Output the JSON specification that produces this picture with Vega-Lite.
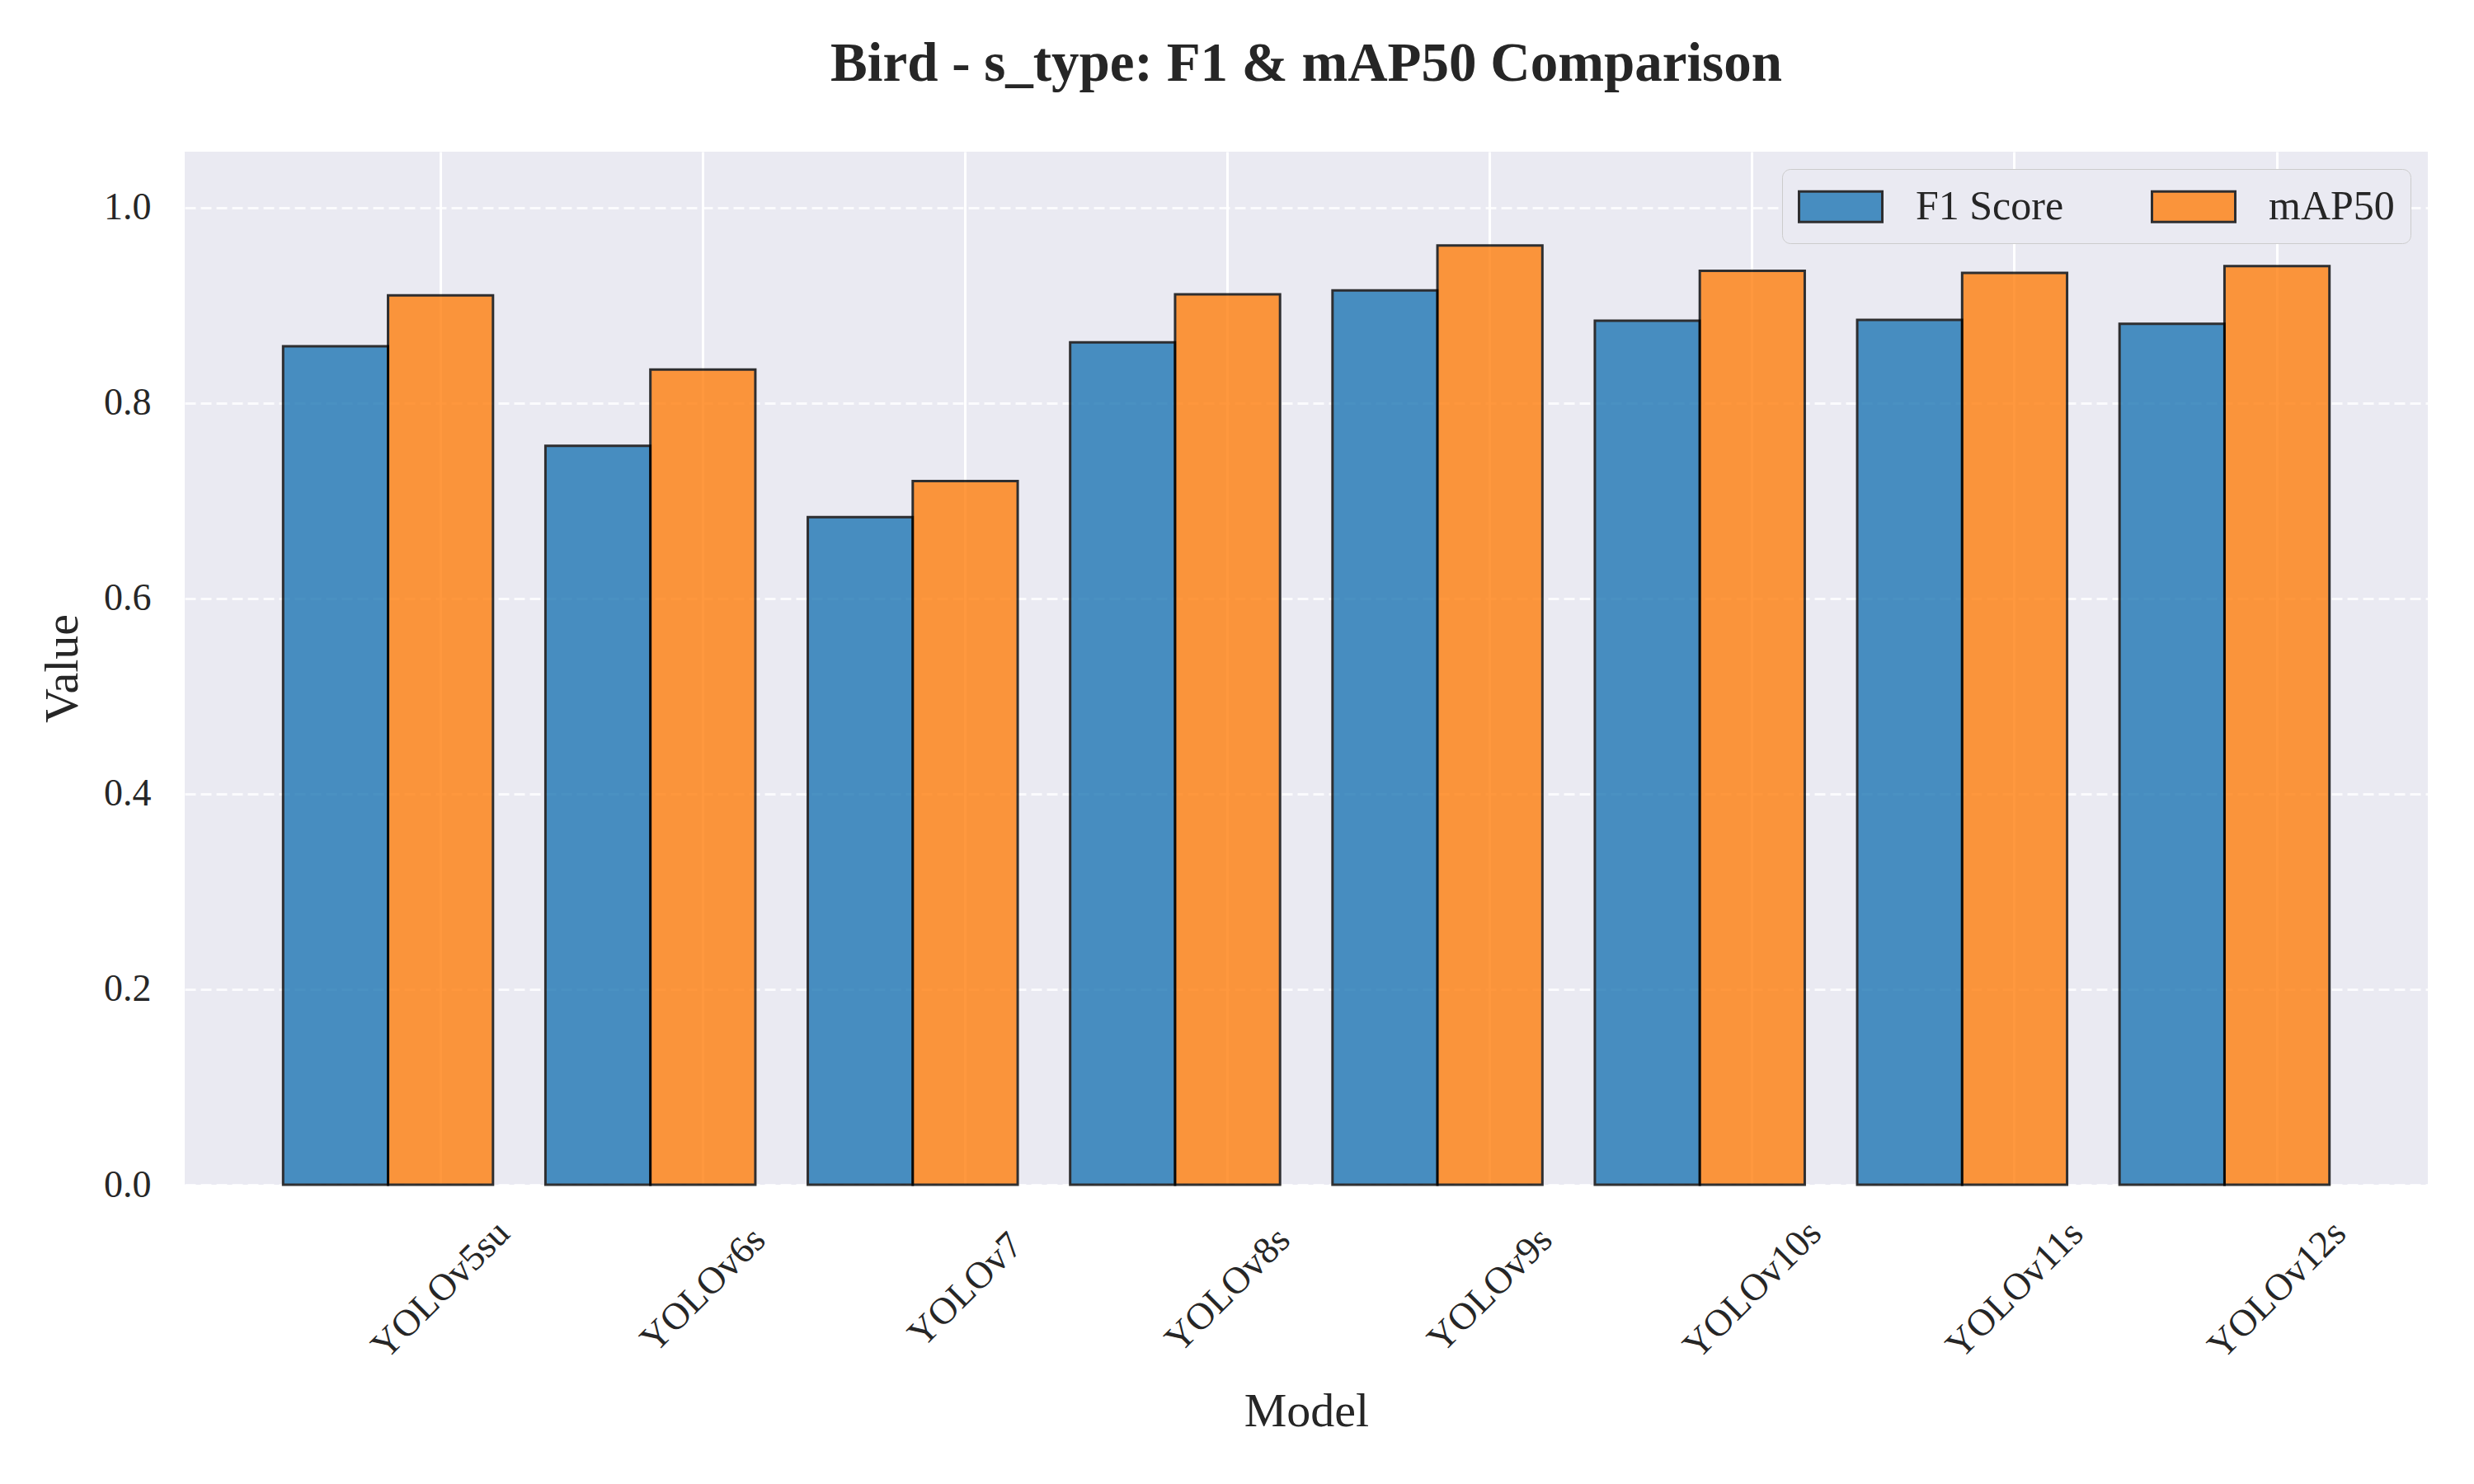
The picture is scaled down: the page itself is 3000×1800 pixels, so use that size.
{
  "$schema": "https://vega.github.io/schema/vega-lite/v6.json",
  "width": 2720,
  "height": 1253,
  "autosize": {"type": "none"},
  "padding": {"left": 224, "top": 184, "right": 56, "bottom": 363},
  "background": "white",
  "title": {
    "text": "Bird - s_type: F1 & mAP50 Comparison",
    "font": "Liberation Serif",
    "fontSize": 67,
    "fontWeight": "bold",
    "color": "#262626",
    "anchor": "middle",
    "baseline": "alphabetic",
    "offset": 19
  },
  "data": {
    "values": [
      {"model": "YOLOv5su", "metric": "F1 Score", "value": 0.858},
      {"model": "YOLOv5su", "metric": "mAP50", "value": 0.910},
      {"model": "YOLOv6s", "metric": "F1 Score", "value": 0.756},
      {"model": "YOLOv6s", "metric": "mAP50", "value": 0.834},
      {"model": "YOLOv7", "metric": "F1 Score", "value": 0.683},
      {"model": "YOLOv7", "metric": "mAP50", "value": 0.720},
      {"model": "YOLOv8s", "metric": "F1 Score", "value": 0.862},
      {"model": "YOLOv8s", "metric": "mAP50", "value": 0.911},
      {"model": "YOLOv9s", "metric": "F1 Score", "value": 0.915},
      {"model": "YOLOv9s", "metric": "mAP50", "value": 0.961},
      {"model": "YOLOv10s", "metric": "F1 Score", "value": 0.884},
      {"model": "YOLOv10s", "metric": "mAP50", "value": 0.935},
      {"model": "YOLOv11s", "metric": "F1 Score", "value": 0.885},
      {"model": "YOLOv11s", "metric": "mAP50", "value": 0.933},
      {"model": "YOLOv12s", "metric": "F1 Score", "value": 0.881},
      {"model": "YOLOv12s", "metric": "mAP50", "value": 0.940}
    ]
  },
  "mark": {"type": "bar", "opacity": 0.8, "stroke": "black", "strokeWidth": 3},
  "encoding": {
    "x": {
      "field": "model",
      "type": "nominal",
      "sort": null,
      "title": "Model",
      "scale": {"paddingInner": 0.2, "paddingOuter": 0.375},
      "axis": {
        "bandPosition": 0.75,
        "labelAngle": -45,
        "labelAlign": "center",
        "labelBaseline": "middle",
        "labelOffset": 64,
        "labelPadding": 127,
        "labelOverlap": false,
        "labelLimit": 0,
        "labelFontSize": 46,
        "titlePadding": 46,
        "grid": true,
        "gridColor": "white",
        "gridWidth": 3,
        "gridDash": []
      }
    },
    "xOffset": {
      "field": "metric",
      "type": "nominal",
      "scale": {"paddingInner": 0, "paddingOuter": 0}
    },
    "y": {
      "field": "value",
      "type": "quantitative",
      "title": "Value",
      "scale": {"domain": [0, 1.057], "nice": false},
      "axis": {
        "values": [0, 0.2, 0.4, 0.6, 0.8, 1.0],
        "format": ".1f",
        "labelPadding": 41,
        "labelFontSize": 46,
        "titlePadding": 20,
        "grid": true,
        "gridColor": "white",
        "gridWidth": 3,
        "gridOpacity": 0.8,
        "gridDash": [13, 6]
      }
    },
    "color": {
      "field": "metric",
      "type": "nominal",
      "scale": {"domain": ["F1 Score", "mAP50"], "range": ["#1f77b4", "#ff7f0e"]},
      "legend": {
        "title": null,
        "orient": "top-right",
        "offset": 21,
        "direction": "horizontal",
        "columns": 2,
        "columnPadding": 100,
        "padding": 19,
        "cornerRadius": 10,
        "fillColor": "#eaeaf2",
        "strokeColor": "#cccccc",
        "symbolType": "M-1,-0.74L3.04,-0.74L3.04,0.74L-1,0.74Z",
        "symbolSize": 2500,
        "symbolStrokeColor": "black",
        "symbolStrokeWidth": 3,
        "symbolOpacity": 0.8,
        "labelOffset": 90,
        "labelLimit": 0,
        "labelFont": "Liberation Serif",
        "labelFontSize": 50,
        "labelColor": "#262626"
      }
    }
  },
  "config": {
    "view": {"fill": "#eaeaf2", "stroke": null},
    "axis": {
      "domain": false,
      "ticks": false,
      "tickSize": 0,
      "labelFont": "Liberation Serif",
      "labelColor": "#262626",
      "titleFont": "Liberation Serif",
      "titleFontSize": 58,
      "titleFontWeight": "normal",
      "titleColor": "#262626"
    }
  }
}
